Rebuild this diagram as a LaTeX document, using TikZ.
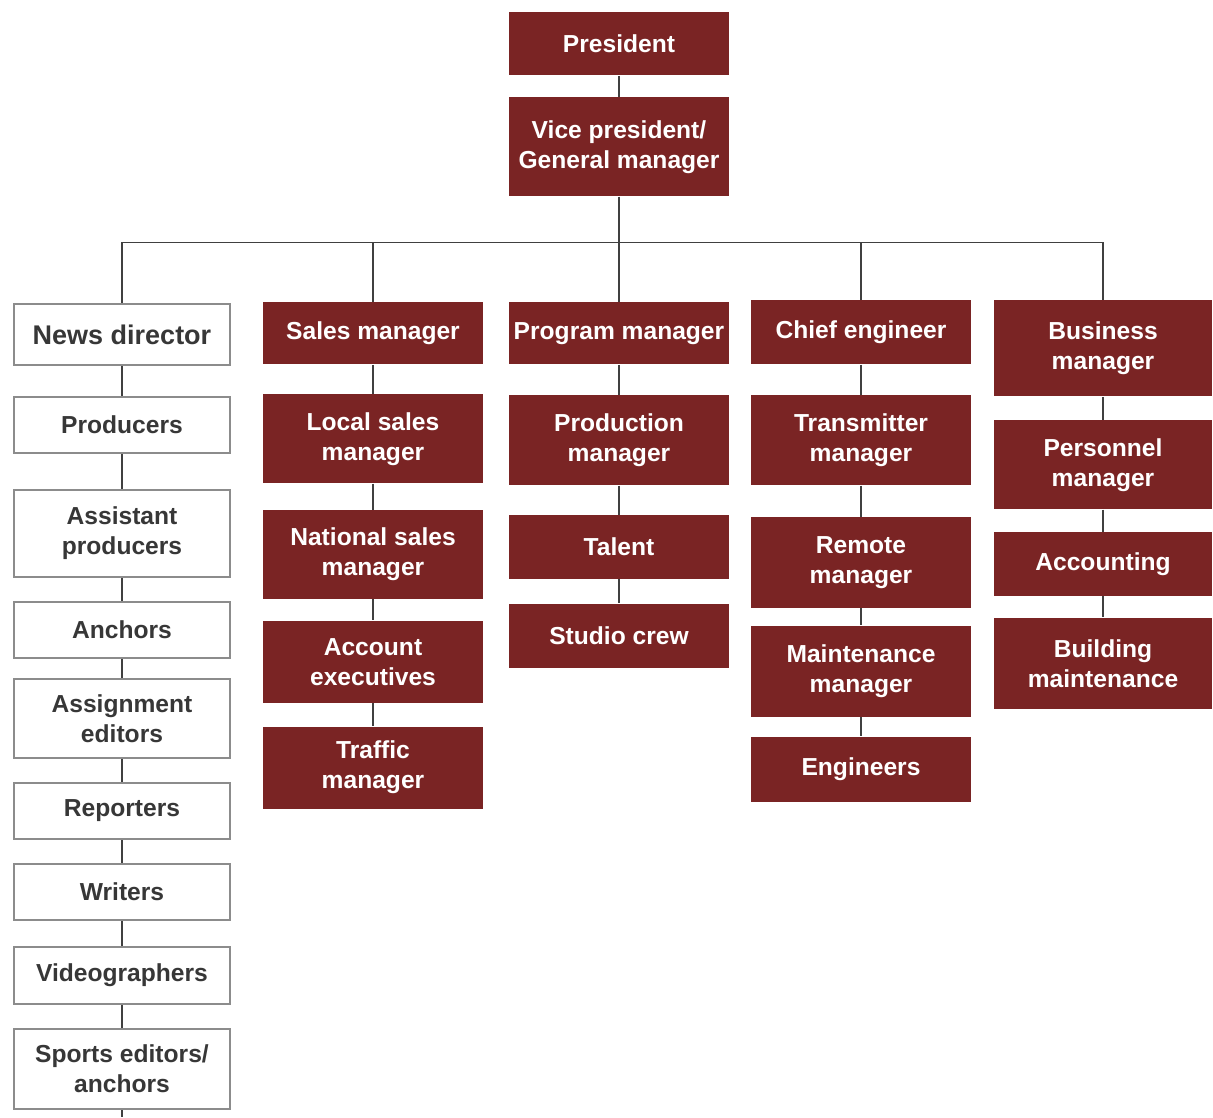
\documentclass[tikz,border=0pt]{standalone}
\usepackage{fontspec}
\setmainfont{Liberation Sans}
\usetikzlibrary{positioning}
\definecolor{maroon}{RGB}{122,36,36}
\definecolor{boxgray}{RGB}{140,140,140}
\definecolor{inkgray}{RGB}{55,55,55}
\newcommand{\boxfont}{\bfseries\fontsize{12.3}{15}\selectfont}

\begin{document}
\begin{tikzpicture}[
      redbox/.style={fill=maroon, text=white, font=\boxfont, align=center, inner sep=2pt, minimum width=110pt, minimum height=31pt},
      whitebox/.style={draw=boxgray, line width=1pt, fill=white, text=inkgray, font=\boxfont, align=center, inner sep=2pt, minimum width=108pt, minimum height=28pt},
      tall/.style={minimum height=45pt},
      link/.style={draw=black!75, line width=0.9pt}
    ]
    \useasboundingbox (0,0) rectangle (606.5pt,-558.5pt);

    % Top of the chart
    \node[redbox, anchor=north, minimum height=31.5pt] (pres) at (309.5pt,-6pt) {President};
    \node[redbox, minimum height=49.5pt, below=10.5pt of pres] (vp) {Vice president/\\General manager};

    % Department heads
    \node[whitebox, anchor=north, minimum height=30.5pt, font=\bfseries\fontsize{13.5}{16}\selectfont] (news) at (61pt,-151.5pt) {News director};
    \node[redbox, anchor=north] (sales) at (186.5pt,-151pt) {Sales manager};
    \node[redbox, anchor=north] (prog) at (309.5pt,-151pt) {Program manager};
    \node[redbox, anchor=north, minimum height=32pt] (chief) at (430.5pt,-150pt) {Chief engineer};
    \node[redbox, anchor=north, minimum width=109pt, minimum height=48pt] (busi) at (551.5pt,-150pt) {Business\\manager};

    % News column
    \node[whitebox, below=15pt of news] (prods) {Producers};
    \node[whitebox, minimum height=43.5pt, below=17.5pt of prods] (asst) {Assistant\\producers};
    \node[whitebox, below=11.5pt of asst] (anch) {Anchors};
    \node[whitebox, minimum height=39.5pt, below=9.5pt of anch] (assign) {Assignment\\editors};
    \node[whitebox, below=11.5pt of assign] (rep) {Reporters};
    \node[whitebox, below=11.5pt of rep] (writ) {Writers};
    \node[whitebox, minimum height=28.5pt, below=12.5pt of writ] (video) {Videographers};
    \node[whitebox, minimum height=40pt, below=11.5pt of video] (sports) {Sports editors/\\anchors};
    \coordinate (newsend) at (sports.south |- 0,-558.5pt);

    % Sales column
    \node[redbox, minimum height=44.5pt, below=14.5pt of sales] (local) {Local sales\\manager};
    \node[redbox, minimum height=44.5pt, below=13pt of local] (natl) {National sales\\manager};
    \node[redbox, minimum height=41pt, below=10.5pt of natl] (acct) {Account\\executives};
    \node[redbox, minimum height=41pt, below=11.5pt of acct] (traf) {Traffic\\manager};

    % Program column
    \node[redbox, tall, below=15pt of prog] (produc) {Production\\manager};
    \node[redbox, minimum height=32pt, below=14.5pt of produc] (talent) {Talent};
    \node[redbox, minimum height=32pt, below=12pt of talent] (studio) {Studio crew};

    % Engineering column
    \node[redbox, tall, below=15pt of chief] (trans) {Transmitter\\manager};
    \node[redbox, minimum height=45.5pt, below=15.5pt of trans] (remote) {Remote\\manager};
    \node[redbox, minimum height=45.5pt, below=8.5pt of remote] (maint) {Maintenance\\manager};
    \node[redbox, minimum height=32.5pt, below=9.5pt of maint] (eng) {Engineers};

    % Business column
    \node[redbox, minimum width=109pt, minimum height=44.5pt, below=11.5pt of busi] (pers) {Personnel\\manager};
    \node[redbox, minimum width=109pt, minimum height=32pt, below=11pt of pers] (accnt) {Accounting};
    \node[redbox, minimum width=109pt, minimum height=45.5pt, below=10.5pt of accnt] (build) {Building\\maintenance};

    % Connectors
    \draw[link] (pres) -- (vp);
    \draw[link] (vp.south) -- ++(0,-23pt) coordinate (hub);
    \draw[link] (news.north) -- (news.north |- hub) -- (busi.north |- hub) -- (busi.north);
    \foreach \n in {sales,prog,chief}
      \draw[link] (\n.north) -- (\n.north |- hub);
    \foreach \a/\b in {news/prods, prods/asst, asst/anch, anch/assign, assign/rep, rep/writ, writ/video, video/sports, sports/newsend,
                       sales/local, local/natl, natl/acct, acct/traf,
                       prog/produc, produc/talent, talent/studio,
                       chief/trans, trans/remote, remote/maint, maint/eng,
                       busi/pers, pers/accnt, accnt/build}
      \draw[link] (\a) -- (\b);

  \end{tikzpicture}
\end{document}
